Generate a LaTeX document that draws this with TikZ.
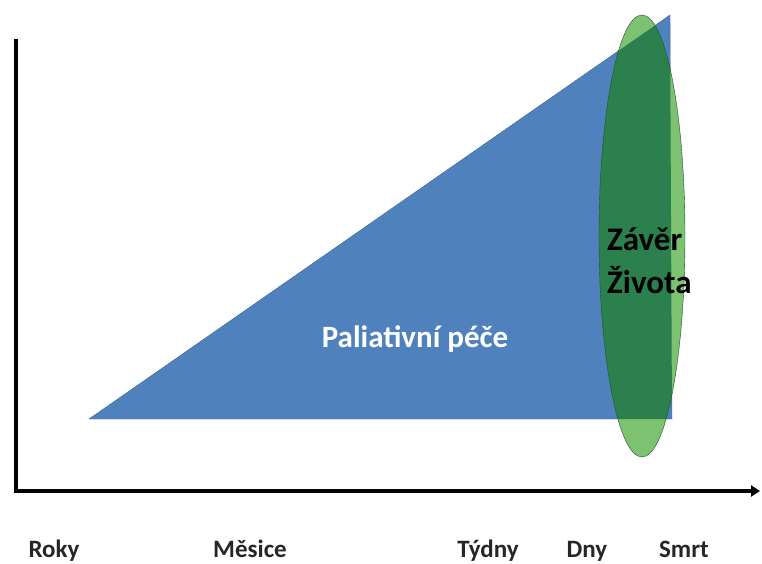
\documentclass[tikz,border=0pt]{standalone}
\usepackage{fontspec}
\setmainfont{Carlito}
\usepackage[svgnames]{xcolor}
\usepackage{tikz}
\usetikzlibrary{arrows.meta}

\definecolor{palblue}{RGB}{79,129,189}
\definecolor{zivlight}{RGB}{125,194,112}
\definecolor{zivdark}{RGB}{44,128,78}

\begin{document}
\begin{tikzpicture}[x=1pt,y=-1pt,
    axislabel/.style={font=\bfseries\fontsize{25}{28}\selectfont, text=black!85, anchor=base},
    ]
        \useasboundingbox (0,0) rectangle (762,563);

        \def\cx{642}
        \def\cy{236}

        \coordinate (O) at (16,491);
        \coordinate (T) at (16,39);
        \coordinate (E) at (760,491);

        \coordinate (A) at (89,419);
        \coordinate (B) at (672,419);
        \coordinate (C) at (670,15);

        % paliativni pece
        \draw[fill=palblue, draw=palblue!80!black] (A) -- (B) -- (C) -- cycle;

        % zaver zivota
        \fill[zivlight] (\cx,\cy) ellipse (43 and 221);
        \begin{scope}
            \clip (A) -- (B) -- (C) -- cycle;
            \fill[zivdark] (\cx,\cy) ellipse (43 and 221);
        \end{scope}
        \draw[draw=zivdark!60!black] (\cx,\cy) ellipse (43 and 221);

        % osy
        \draw[line width=3.2pt, -{Triangle[length=9pt,width=11pt]}] (T) -- (O) -- (E);

        \node[font=\bfseries\fontsize{31}{36}\selectfont, text=white, anchor=base] (pal) at (415,347) {Paliativní péče};
        \node[font=\bfseries\fontsize{33}{43}\selectfont, align=left, anchor=base west, inner sep=0pt] (ziv) at (607,293) {Závěr\\Života};

        \node[axislabel] (roky) at (54,557) {Roky};
        \node[axislabel] (mes) at (250,557) {Měsice};
        \node[axislabel] (tyd) at (488,557) {Týdny};
        \node[axislabel] (dny) at (587,557) {Dny};
        \node[axislabel] (smrt) at (684,557) {Smrt};
\end{tikzpicture}
\end{document}
